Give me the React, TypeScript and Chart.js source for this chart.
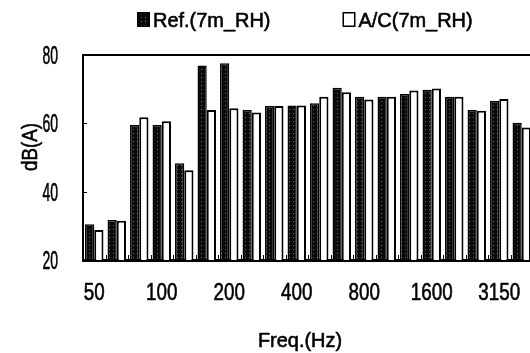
import { useEffect, useRef } from 'react';
import { Chart, registerables } from 'chart.js';

Chart.register(...registerables);

const frequencies = ['50', '63', '80', '100', '125', '160', '200', '250', '315', '400', '500', '630', '800', '1000', '1250', '1600', '2000', '2500', '3150', '4000'];
const refValues = [30.5, 31.7, 59.5, 59.5, 48.3, 76.9, 77.6, 63.9, 65.1, 65.2, 65.9, 70.4, 67.8, 67.8, 68.6, 69.8, 67.8, 63.9, 66.6, 60.2];
const acValues = [28.8, 31.5, 61.8, 60.6, 46.3, 63.9, 64.4, 63.2, 65.1, 65.2, 67.8, 69.1, 67.0, 67.8, 69.6, 70.2, 67.8, 63.7, 67.1, 58.8];
const seriesNames = ['Ref.(7m_RH)', 'A/C(7m_RH)'];
const yMin = 20;
const yMax = 80;
const yStep = 20;
const labelEvery = 3;
const yTitle = 'dB(A)';
const xTitle = 'Freq.(Hz)';

const FONT = '"Liberation Sans", Arial, Helvetica, sans-serif';

function makeStipple(): CanvasPattern | string {
  const c = document.createElement('canvas');
  c.width = 4;
  c.height = 4;
  const g = c.getContext('2d');
  if (!g) return '#111';
  g.fillStyle = '#0a0a0a';
  g.fillRect(0, 0, 4, 4);
  g.fillStyle = '#6a6a6a';
  g.fillRect(1, 1, 1, 1);
  const p = g.createPattern(c, 'repeat');
  return p || '#111';
}

// draw condensed, slightly heavy text: size in px, k = horizontal squeeze
function txt(
  ctx: CanvasRenderingContext2D,
  s: string,
  x: number,
  y: number,
  size: number,
  k: number,
  align: CanvasTextAlign,
  rotate = 0
) {
  ctx.save();
  ctx.translate(x, y);
  if (rotate) ctx.rotate(rotate);
  ctx.scale(k, 1);
  ctx.font = `${size}px ${FONT}`;
  ctx.textAlign = align;
  ctx.textBaseline = 'middle';
  ctx.fillStyle = '#000';
  ctx.strokeStyle = '#000';
  ctx.lineWidth = 0.6;
  ctx.lineJoin = 'round';
  ctx.fillText(s, 0, 0);
  ctx.strokeText(s, 0, 0);
  ctx.restore();
}

function txtWidth(ctx: CanvasRenderingContext2D, s: string, size: number, k: number) {
  ctx.save();
  ctx.font = `${size}px ${FONT}`;
  const w = ctx.measureText(s).width * k;
  ctx.restore();
  return w;
}

const decorations = {
  id: 'decorations',
  afterDraw(chart: any) {
    const ctx: CanvasRenderingContext2D = chart.ctx;
    const { left, right, top, bottom } = chart.chartArea;
    const xs = chart.scales.x;
    const ys = chart.scales.y;
    ctx.save();
    ctx.strokeStyle = '#000';
    // top frame line
    ctx.lineWidth = 2;
    ctx.beginPath();
    ctx.moveTo(left - 1, top);
    ctx.lineTo(right + 10, top);
    ctx.stroke();
    // inward x ticks at category boundaries
    const n = xs.getLabels().length;
    const w = (xs.right - xs.left) / n;
    ctx.lineWidth = 1;
    for (let i = 1; i < n; i++) {
      const x = Math.round(xs.left + i * w) + 0.5;
      ctx.beginPath();
      ctx.moveTo(x, bottom);
      ctx.lineTo(x, bottom - 5);
      ctx.stroke();
    }
    // inward y ticks
    for (let v = yMin + yStep; v < yMax; v += yStep) {
      const y = Math.round(ys.getPixelForValue(v)) + 0.5;
      ctx.beginPath();
      ctx.moveTo(left, y);
      ctx.lineTo(left + 4, y);
      ctx.stroke();
    }
    // y tick labels
    for (let v = yMin; v <= yMax; v += yStep) {
      txt(ctx, String(v), left - 25, ys.getPixelForValue(v) + 2, 25, 0.56, 'right');
    }
    // x tick labels
    frequencies.forEach((f, i) => {
      if (i % labelEvery !== 0) return;
      txt(ctx, f, xs.getPixelForValue(i), bottom + 34, 23.5, 0.8, 'center');
    });
    // legend
    let lx = 137;
    const ly = 20;
    chart.data.datasets.forEach((ds: any) => {
      ctx.fillStyle = ds.backgroundColor;
      ctx.fillRect(lx, ly - 8, 13, 15);
      ctx.strokeStyle = '#000';
      ctx.lineWidth = 1.5;
      ctx.strokeRect(lx + 0.75, ly - 8 + 0.75, 11.5, 13.5);
      txt(ctx, ds.label, lx + 16, ly + 1, 21, 0.95, 'left');
      lx += 16 + txtWidth(ctx, ds.label, 21, 0.95) + 72;
    });
    // axis titles
    txt(ctx, xTitle, 300, 341, 21, 0.95, 'center');
    txt(ctx, yTitle, 31, 147, 22, 0.85, 'center', -Math.PI / 2);
    ctx.restore();
  },
};

export default function App() {
  const ref = useRef<HTMLCanvasElement | null>(null);
  useEffect(() => {
    if (!ref.current) return;
    const stipple = makeStipple();
    const chart = new Chart(ref.current, {
      type: 'bar',
      data: {
        labels: frequencies,
        datasets: [
          {
            label: seriesNames[0],
            data: refValues,
            backgroundColor: stipple as any,
            borderColor: '#000',
            borderWidth: 1.5,
            borderSkipped: 'bottom',
          },
          {
            label: seriesNames[1],
            data: acValues,
            backgroundColor: '#fff',
            borderColor: '#000',
            borderWidth: 2,
            borderSkipped: 'bottom',
          },
        ],
      },
      options: {
        responsive: false,
        animation: false,
        events: [],
        layout: { padding: { top: 55, right: 7, bottom: 0, left: 0 } },
        datasets: { bar: { categoryPercentage: 0.82, barPercentage: 1.0 } },
        plugins: {
          legend: { display: false },
          tooltip: { enabled: false },
        },
        scales: {
          x: {
            grid: { display: false },
            border: { display: true, width: 3, color: '#000' },
            ticks: { display: false, autoSkip: false },
            afterFit: (scale: any) => {
              scale.height = 93;
            },
          },
          y: {
            min: yMin,
            max: yMax,
            grid: { display: false, drawTicks: false },
            border: { display: true, width: 2, color: '#000' },
            ticks: { display: false, stepSize: yStep },
            afterFit: (scale: any) => {
              scale.width = 83;
            },
          },
        },
      },
      plugins: [decorations],
    });
    return () => chart.destroy();
  }, []);
  return (
    <div style={{ position: 'fixed', left: 0, top: 0, width: 530, height: 353, overflow: 'hidden', background: '#fff' }}>
      <canvas ref={ref} width={540} height={353} style={{ display: 'block' }} />
    </div>
  );
}
